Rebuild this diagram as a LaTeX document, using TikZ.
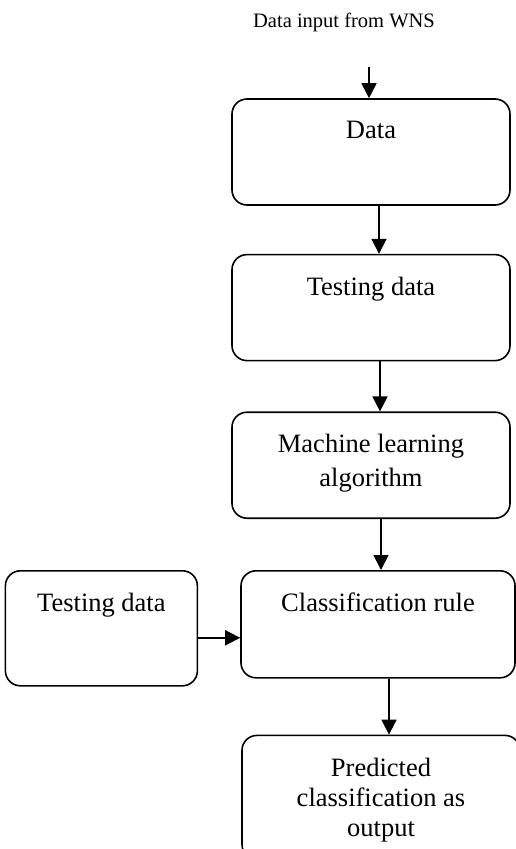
\documentclass[tikz,border=0pt]{standalone}
\usepackage{fontspec}
\setmainfont{Liberation Serif}
\usetikzlibrary{positioning,arrows.meta}

\tikzset{
	procbox/.style={draw, rounded corners=15pt, line width=1.6pt, minimum width=278pt, minimum height=106pt, inner sep=0pt},
	boxtext/.style={font=\fontsize{26.5}{32}\selectfont, align=center, inner sep=0pt},
	flow/.style={-{Triangle[length=15pt,width=15pt]}, line width=1.8pt}
}

\begin{document}
\begin{tikzpicture}[x=1pt,y=1pt]
		\useasboundingbox (0,0) rectangle (516,-849);

		% Define nodes
		\node[font=\fontsize{20.5}{24}\selectfont, anchor=base] (src) at (344,-27) {Data input from WNS};
		\node[procbox] (data) at (371,-152) {};
		\node[procbox, below=48pt of data] (test1) {};
		\node[procbox, below=50pt of test1] (ml) {};
		\node[procbox, below=51pt of ml, xshift=7pt, minimum width=274pt, minimum height=107pt] (rule) {};
		\node[procbox, below left=0pt and 42pt of rule.north west, minimum width=192pt, minimum height=115pt] (test2) {};
		\node[procbox, below=56pt of rule, xshift=3pt, minimum height=124pt] (pred) {};

		% Box texts
		\node[boxtext, below=23pt of data.north] (data-t) {Data};
		\node[boxtext, below=23pt of test1.north] (test1-t) {Testing data};
		\node[boxtext, below=23pt of ml.north, font=\fontsize{26.5}{34}\selectfont] (ml-t) {Machine learning\\algorithm};
		\node[boxtext, below=23pt of rule.north] (rule-t) {Classification rule};
		\node[boxtext, below=23pt of test2.north] (test2-t) {Testing data};
		\node[boxtext, below=23pt of pred.north, font=\fontsize{26.5}{30}\selectfont] (pred-t) {Predicted\\classification as\\output};

		% Connect the nodes
		\coordinate[above=31pt of data.north, xshift=-2pt] (in);
		\draw[flow] (in) -- (in |- data.north);
		\draw[flow] ([xshift=8pt]data.south) -- ([xshift=8pt]test1.north);
		\draw[flow] ([xshift=9pt]test1.south) -- ([xshift=9pt]ml.north);
		\draw[flow] ([xshift=10pt]ml.south) -- ([xshift=10pt]ml.south |- rule.north);
		\draw[flow] ([xshift=11pt]rule.south) -- ([xshift=11pt]rule.south |- pred.north);
		\draw[flow] ([yshift=-9.5pt]test2.east) -- ([yshift=-9.5pt]test2.east -| rule.west);

\end{tikzpicture}
\end{document}
